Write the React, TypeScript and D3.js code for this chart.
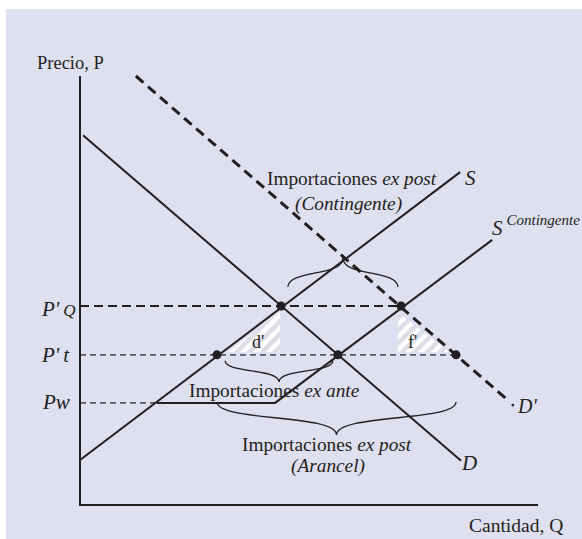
import React from "react";
import * as d3 from "d3";

// ---- Data (quantity Q, price P in chart units) ----
const quantityDomain: [number, number] = [0, 100];
const priceDomain: [number, number] = [0, 100];

const demandD: [number, number][] = [[0.66, 86.2], [83.2, 10.3]];
const supplyS: [number, number][] = [[0, 10.5], [83.0, 77.6]];
const supplyQuota: [number, number][] = [[16.8, 23.8], [42.6, 23.8], [90.0, 61.8]];
const demandDPrime: [number, number][] = [[12.2, 100], [94.5, 23.3]];

const priceQuota = 46.4;   // P'Q
const priceTariff = 35.0;  // P't
const priceWorld = 23.8;   // Pw
const priceQuotaEnd = 70.1;
const priceTariffEnd = 82.1;
const priceWorldEnd = 16.8;

const equilibriumPoints: [number, number][] = [
  [43.9, 46.4], [70.1, 46.4], [29.9, 35.0], [56.3, 35.0], [82.1, 35.0],
];

const triangleD: [number, number][] = [[32.3, 35.6], [43.7, 35.6], [43.7, 45.2]];
const triangleF: [number, number][] = [[69.4, 44.9], [69.4, 35.6], [80.8, 35.6]];

// braces: from q1 to q2 at price p, tip at price tip
const braces = [
  { q1: 45.4, q2: 69.4, p: 50.8, tip: 57.6 },
  { q1: 31.7, q2: 55.2, p: 33.6, tip: 28.7 },
  { q1: 29.9, q2: 82.1, p: 24.0, tip: 16.3 },
];

const W = 582;
const H = 539;
const INK = "#231f20";
const BG = "#dedfef";
const FONT = "'Liberation Serif', 'Times New Roman', serif";

const x = d3.scaleLinear().domain(quantityDomain).range([80, 538]);
const y = d3.scaleLinear().domain(priceDomain).range([505, 76]);
const line = d3.line<[number, number]>().x((d) => x(d[0])).y((d) => y(d[1]));

function bracePath(q1: number, q2: number, p: number, tip: number) {
  const x1 = x(q1), x2 = x(q2), y0 = y(p), yt = y(tip);
  const xm = (x1 + x2) / 2;
  const h = yt - y0;
  return `M${x1},${y0} C${x1},${y0 + h * 0.6} ${xm},${y0 + h * 0.35} ${xm},${yt} C${xm},${y0 + h * 0.35} ${x2},${y0 + h * 0.6} ${x2},${y0}`;
}

export default function App() {
  const dEnd = demandDPrime[1];
  return (
    <svg width={W} height={H} style={{ position: "absolute", left: 0, top: 0 }} fontFamily={FONT}>
      <defs>
        <pattern id="hatch" patternUnits="userSpaceOnUse" width={9} height={9} patternTransform="rotate(45)">
          <rect width={9} height={9} fill="#ffffff" />
          <rect width={4.5} height={9} fill="#dcdde6" />
        </pattern>
      </defs>
      <rect x={0} y={0} width={W} height={H} fill="#ffffff" />
      <rect x={6} y={9} width={W - 6} height={H - 9} fill={BG} />

      {/* hatched triangles */}
      <path d={line(triangleD) + "Z"} fill="url(#hatch)" />
      <path d={line(triangleF) + "Z"} fill="url(#hatch)" />

      {/* price level lines */}
      <path d={line([[0, priceQuota], [priceQuotaEnd, priceQuota]])!} stroke={INK} strokeWidth={2} strokeDasharray="9 5" fill="none" />
      <path d={line([[0, priceTariff], [priceTariffEnd, priceTariff]])!} stroke="#5a5a5e" strokeWidth={1.6} strokeDasharray="6 4" fill="none" />
      <path d={line([[0, priceWorld], [priceWorldEnd, priceWorld]])!} stroke="#5a5a5e" strokeWidth={1.6} strokeDasharray="6 4" fill="none" />

      {/* curves */}
      <path d={line(demandD)!} stroke={INK} strokeWidth={2} fill="none" />
      <path d={line(supplyS)!} stroke={INK} strokeWidth={2} fill="none" />
      <path d={line(supplyQuota)!} stroke={INK} strokeWidth={2} fill="none" />
      <path d={line([demandDPrime[0], [dEnd[0] - 1.5, dEnd[1] + 1.5]])!} stroke={INK} strokeWidth={3} strokeDasharray="10 6" fill="none" />
      <circle cx={x(dEnd[0])} cy={y(dEnd[1])} r={1.4} fill={INK} />

      {/* axes */}
      <path d={`M${x(0)},${y(100)} V${y(0)} H${x(100)}`} stroke={INK} strokeWidth={2} fill="none" />

      {/* braces */}
      {braces.map((b, i) => (
        <path key={i} d={bracePath(b.q1, b.q2, b.p, b.tip)} stroke={INK} strokeWidth={1.3} fill="none" />
      ))}

      {/* points */}
      {equilibriumPoints.map((d, i) => (
        <circle key={i} cx={x(d[0])} cy={y(d[1])} r={4.5} fill={INK} />
      ))}

      {/* text */}
      <g fill={INK}>
        <text x={37} y={69} fontSize={18.5}>Precio, P</text>
        <text x={469} y={532} fontSize={19.5}>Cantidad, Q</text>

        <text x={42} y={316} fontSize={21} fontStyle="italic">P'<tspan fontSize={17} dx={4}>Q</tspan></text>
        <text x={42} y={362} fontSize={21} fontStyle="italic">P'<tspan dx={4}>t</tspan></text>
        <text x={43} y={409} fontSize={21} fontStyle="italic">Pw</text>

        <text x={465} y={185} fontSize={21} fontStyle="italic">S</text>
        <text x={492} y={235} fontSize={21} fontStyle="italic">S<tspan fontSize={15} dx={4} dy={-10}>Contingente</tspan></text>
        <text x={462} y={470} fontSize={21} fontStyle="italic">D</text>
        <text x={518} y={413} fontSize={20} fontStyle="italic">D'</text>

        <text x={267} y={185} fontSize={19.3}>Importaciones <tspan fontStyle="italic">ex post</tspan></text>
        <text x={295} y={210} fontSize={19.3} fontStyle="italic">(Contingente)</text>

        <text x={252} y={348} fontSize={18}>d'</text>
        <text x={408} y={348} fontSize={18}>f'</text>

        <text x={189} y={397} fontSize={19.3}>Importaciones <tspan fontStyle="italic">ex ante</tspan></text>
        <text x={242} y={451} fontSize={19.3}>Importaciones <tspan fontStyle="italic">ex post</tspan></text>
        <text x={328} y={472} fontSize={19.3} fontStyle="italic" textAnchor="middle">(Arancel)</text>
      </g>
    </svg>
  );
}
